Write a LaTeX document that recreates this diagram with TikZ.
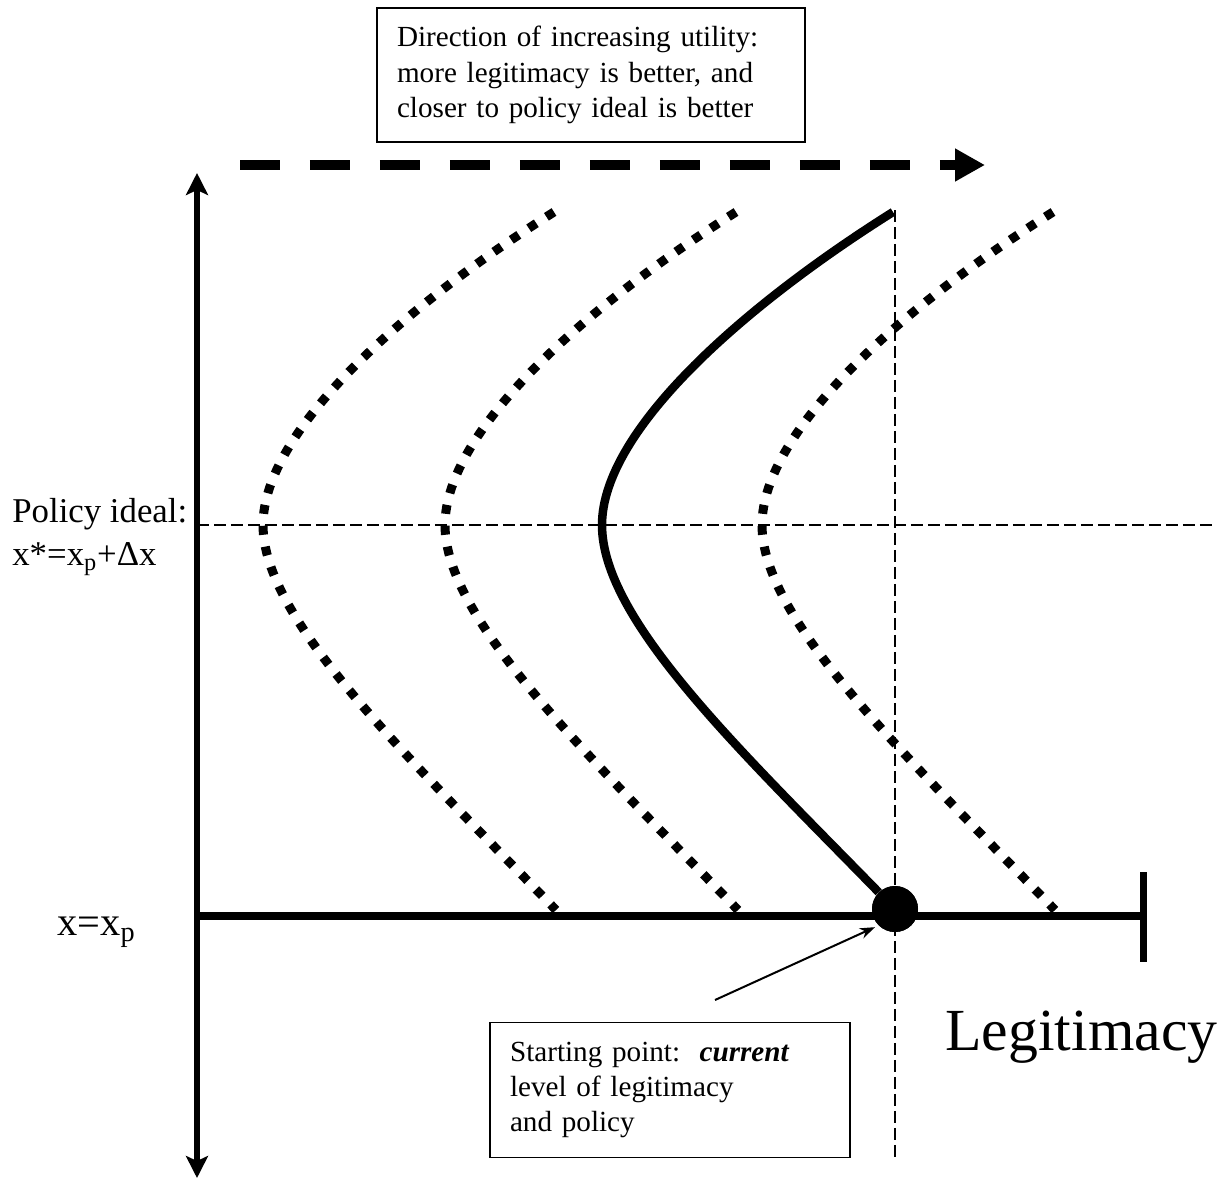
\documentclass[tikz,border=0pt]{standalone}
\usepackage{fontspec}
\setmainfont{Liberation Serif}
\usetikzlibrary{arrows.meta}
\begin{document}
\begin{tikzpicture}[x=0.02cm, y=-0.02cm,
    axis/.style={line width=0.13cm},
    guide/.style={line width=0.03cm, dash pattern=on 0.24cm off 0.1cm},
    indiff/.style={line width=0.18cm, dash pattern=on 0.18cm off 0.24cm},
    pathcurve/.style={line width=0.17cm},
    direction/.style={line width=0.2cm, dash pattern=on 0.8cm off 0.6cm, -{Triangle[length=0.6cm, width=0.62cm]}},
    pointer/.style={line width=0.04cm, -{Stealth[length=0.3cm, width=0.22cm]}, shorten >=0.08cm},
    note/.style={draw, line width=0.03cm, align=left, inner xsep=0.4cm, font=\fontsize{16.6}{20}\selectfont},
    lbl/.style={inner sep=0pt, anchor=base west},
  ]
  \useasboundingbox (0,0) rectangle (1230,1180);
  \coordinate (origin) at (197,916);
  \node[circle, fill, minimum size=0.92cm, inner sep=0pt] (start) at (895,909) {};
  \draw[guide] (895,210) -- (895,1157);
  \draw[guide] (197,525) -- (1212,525);
  \draw[axis, {Stealth[length=0.44cm, width=0.44cm, inset=0.1cm]}-{Stealth[length=0.44cm, width=0.44cm, inset=0.1cm]}] (197,173) -- (197,1178);
  \draw[axis, line width=0.16cm] (origin) -- (1143,916);
  \draw[axis, line width=0.14cm] (1143,872) -- (1143,962);
  \foreach \s in {-339,-157,160} {
    \draw[indiff, shift={(\s,0)}] (893,212) .. controls (745,305) and (602,430) .. (602,525)
      .. controls (602,620) and (745,755) .. (895,910);
  }
  \draw[pathcurve] (893,212) .. controls (745,305) and (602,430) .. (602,525)
    .. controls (602,620) and (740,750) .. (start);
  \node[circle, fill, minimum size=0.92cm, inner sep=0pt] at (start) {};
  \coordinate (dirstart) at (240,165);
  \coordinate (dirend) at (985,165);
  \draw[direction] (dirstart) -- (dirend);
  \node[note, minimum width=8.56cm, minimum height=2.68cm, text width=7.76cm] (goal) at (591,75)
    {Direction of increasing utility:\\ more legitimacy is better, and\\ closer to policy ideal is better};
  \node[note, minimum width=7.2cm, minimum height=2.7cm, text width=6.4cm] (current) at (670,1090)
    {Starting point:~~\textbf{\textit{current}}\\ level of legitimacy\\ and policy};
  \coordinate (tail) at (715,1000);
  \draw[pointer] (tail) -- (start.south west);
  \node[lbl, font=\fontsize{19.8}{24}\selectfont] (ideal) at (12,522) {Policy ideal:};
  \node[lbl, font=\fontsize{19.8}{24}\selectfont] (idealval) at (12,565) {x*=x\textsubscript{p}+Δx};
  \node[lbl, font=\fontsize{23}{26}\selectfont] (basevalue) at (57,935) {x=x\textsubscript{p}};
  \node[lbl, font=\fontsize{34}{40}\selectfont] (legit) at (945,1050) {Legitimacy};
\end{tikzpicture}
\end{document}
